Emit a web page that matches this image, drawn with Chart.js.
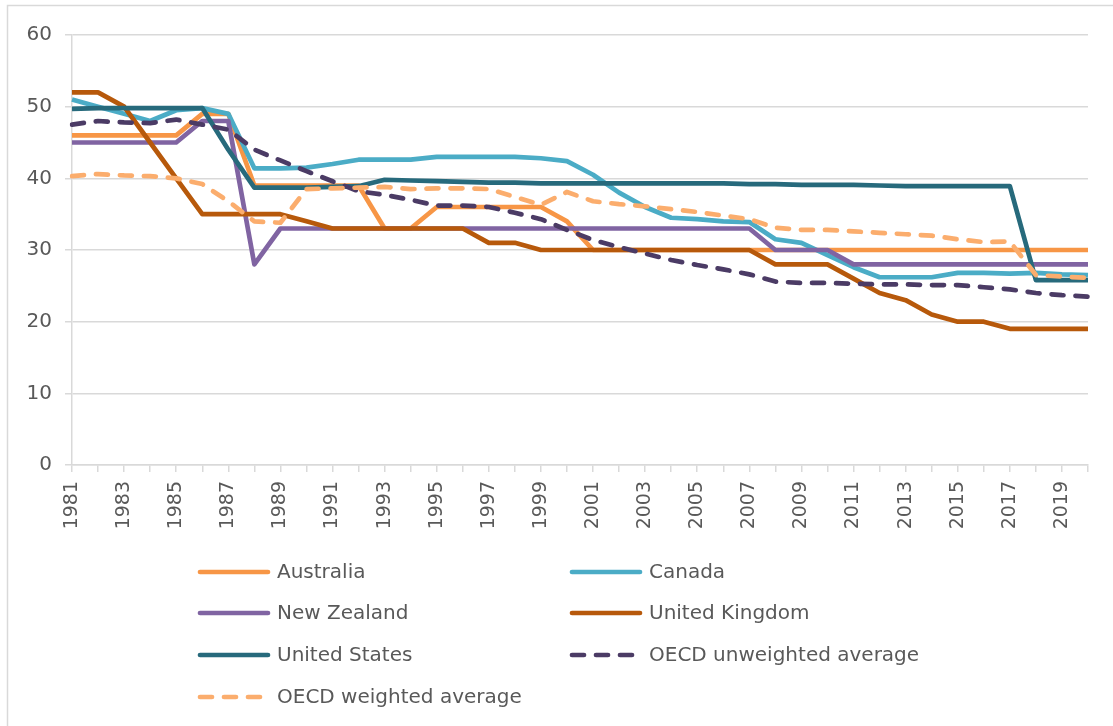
<!DOCTYPE html>
<html>
<head>
<meta charset="utf-8">
<script src="https://cdn.jsdelivr.net/npm/chart.js@4/dist/chart.umd.min.js"></script>
<style>
  html, body { margin: 0; padding: 0; background: #fff; }
  #wrap { width: 1113px; height: 726px; position: relative; }
</style>
</head>
<body>
<div id="wrap"><canvas id="c" width="1113" height="726"></canvas></div>
<script>
const years = ['1981','1982','1983','1984','1985','1986','1987','1988','1989','1990',
  '1991','1992','1993','1994','1995','1996','1997','1998','1999','2000',
  '2001','2002','2003','2004','2005','2006','2007','2008','2009','2010',
  '2011','2012','2013','2014','2015','2016','2017','2018','2019','2020'];

const australia = [46,46,46,46,46,49,49,39,39,39,
  39,39,33,33,36,36,36,36,36,34,
  30,30,30,30,30,30,30,30,30,30,
  30,30,30,30,30,30,30,30,30,30];
const canada = [51,50,49,48,49.5,49.8,49,41.4,41.4,41.5,
  42,42.6,42.6,42.6,43,43,43,43,42.8,42.4,
  40.5,38,36,34.5,34.3,34,33.9,31.5,31,29.3,
  27.6,26.2,26.2,26.2,26.8,26.8,26.7,26.8,26.6,26.5];
const newZealand = [45,45,45,45,45,48,48,28,33,33,
  33,33,33,33,33,33,33,33,33,33,
  33,33,33,33,33,33,33,30,30,30,
  28,28,28,28,28,28,28,28,28,28];
const unitedKingdom = [52,52,50,45,40,35,35,35,35,34,
  33,33,33,33,33,33,31,31,30,30,
  30,30,30,30,30,30,30,28,28,28,
  26,24,23,21,20,20,19,19,19,19];
const unitedStates = [49.7,49.8,49.8,49.8,49.8,49.8,44,38.7,38.7,38.7,
  38.8,38.9,39.8,39.7,39.6,39.5,39.4,39.4,39.3,39.3,
  39.3,39.3,39.3,39.3,39.3,39.3,39.2,39.2,39.1,39.1,
  39.1,39.0,38.9,38.9,38.9,38.9,38.9,25.8,25.8,25.8];
const oecdUnweighted = [47.5,48,47.8,47.7,48.2,47.5,46.8,44,42.5,41,
  39.6,38.2,37.7,37,36.2,36.2,36,35.2,34.3,32.8,
  31.4,30.4,29.5,28.6,27.9,27.3,26.6,25.6,25.4,25.4,
  25.3,25.2,25.2,25.1,25.1,24.8,24.5,24,23.7,23.5];
const oecdWeighted = [40.3,40.6,40.4,40.3,40,39.2,36.8,34,33.8,38.5,
  38.6,38.7,38.8,38.5,38.6,38.6,38.5,37.4,36.3,38.1,
  36.8,36.4,36.1,35.7,35.3,34.8,34.3,33.1,32.8,32.8,
  32.6,32.4,32.2,32.0,31.5,31.1,31.2,26.5,26.3,26.1];

const seriesNames = ['Australia','Canada','New Zealand','United Kingdom','United States','OECD unweighted average','OECD weighted average'];
const seriesData = [australia, canada, newZealand, unitedKingdom, unitedStates, oecdUnweighted, oecdWeighted];
const seriesColors = ['#F79646','#4BACC6','#8064A2','#B7590B','#276A7C','#4B3B65','#FBAD6D'];
const seriesDashed = [false,false,false,false,false,true,true];
const yTicks = [0,10,20,30,40,50,60];

const FONT = 'DejaVu Sans';
const TXT = '#595959';
const GRID = '#D9D9D9';

const datasets = seriesNames.map((name, i) => ({
  label: name,
  data: seriesData[i],
  borderColor: seriesColors[i],
  backgroundColor: seriesColors[i],
  borderWidth: 4.7,
  borderDash: seriesDashed[i] ? [12, 12] : [],
  borderCapStyle: seriesDashed[i] ? 'round' : 'butt',
  borderJoinStyle: 'round',
  pointRadius: 0,
  pointHoverRadius: 0,
  tension: 0,
  fill: false,
  order: seriesNames.length - i
}));

const framePlugin = {
  id: 'frame',
  beforeDraw(chart) {
    const ctx = chart.ctx;
    ctx.save();
    ctx.fillStyle = '#fff';
    ctx.fillRect(0, 0, chart.width, chart.height);
    ctx.strokeStyle = GRID;
    ctx.lineWidth = 1.5;
    ctx.strokeRect(7.5, 5.5, 1200, 800);
    ctx.restore();
  }
};

const legendPlugin = {
  id: 'colLegend',
  afterDraw(chart) {
    const ctx = chart.ctx;
    const colX = [198, 570];
    const rowY = [572, 613, 655, 697];
    ctx.save();
    chart.data.datasets.forEach((ds, i) => {
      const x = colX[i % 2];
      const y = rowY[Math.floor(i / 2)];
      ctx.strokeStyle = ds.borderColor;
      ctx.lineWidth = 4.7;
      ctx.lineCap = 'round';
      if (ds.borderDash && ds.borderDash.length) {
        ctx.setLineDash([12, 12]);
      } else {
        ctx.setLineDash([]);
      }
      ctx.beginPath();
      ctx.moveTo(x + 2, y);
      ctx.lineTo(x + 70, y);
      ctx.stroke();
      ctx.setLineDash([]);
      ctx.fillStyle = TXT;
      ctx.font = '20px "' + FONT + '"';
      ctx.textBaseline = 'middle';
      ctx.textAlign = 'left';
      ctx.fillText(ds.label, x + 79, y + 1);
    });
    ctx.restore();
  }
};

new Chart(document.getElementById('c'), {
  type: 'line',
  data: { labels: years, datasets },
  plugins: [framePlugin, legendPlugin],
  options: {
    responsive: false,
    animation: false,
    events: [],
    layout: { padding: { left: 0, top: 35, right: 25, bottom: 191 } },
    plugins: { legend: { display: false }, tooltip: { enabled: false } },
    scales: {
      x: {
        type: 'category',
        offset: false,
        grid: { display: true, drawOnChartArea: false, drawTicks: true, tickLength: 7, color: GRID, lineWidth: 1.5 },
        border: { display: true, color: GRID, width: 1.5 },
        ticks: {
          autoSkip: false, minRotation: 90, maxRotation: 90, padding: 9,
          color: TXT, font: { family: FONT, size: 19 },
          callback: function(v, idx) { return idx % 2 === 0 ? this.getLabelForValue(v) : ''; }
        },
        afterFit: s => { s.height = 70; s.paddingRight = 0; s.paddingLeft = 0; }
      },
      y: {
        min: 0, max: 60,
        afterBuildTicks: s => { s.ticks = yTicks.map(v => ({ value: v })); },
        grid: { color: GRID, lineWidth: 1.5, drawTicks: true, tickLength: 7 },
        border: { display: true, color: GRID, width: 1.5 },
        ticks: { color: TXT, font: { family: FONT, size: 20 }, padding: 13 },
        afterFit: s => { s.width = 72; }
      }
    }
  }
});
</script>
</body>
</html>
